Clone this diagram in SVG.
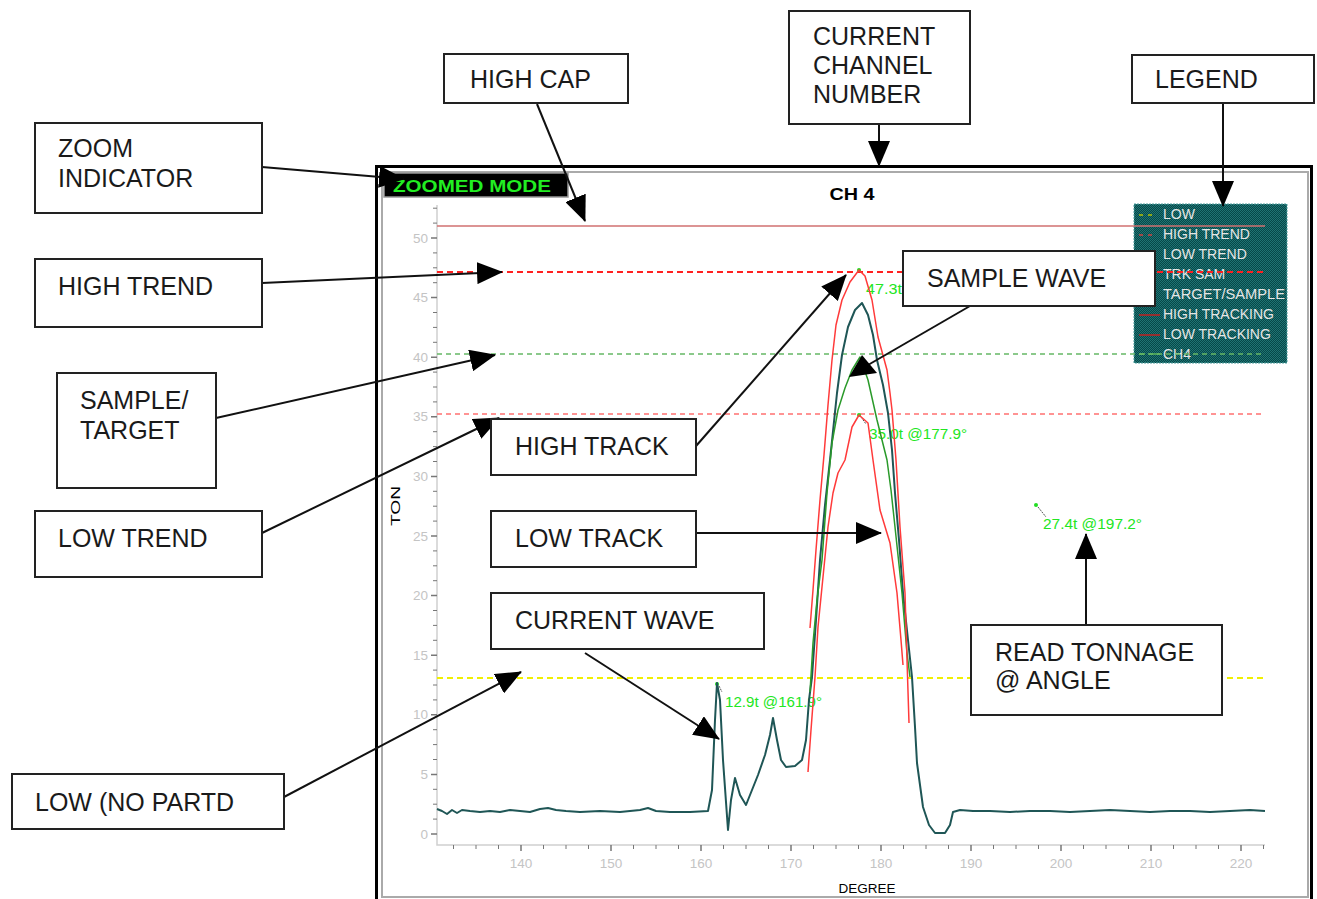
<svg xmlns="http://www.w3.org/2000/svg" width="1317" height="899" viewBox="0 0 1317 899">
<style>
.box{fill:#fff;stroke:#222;stroke-width:2}
.lbl{font-family:"Liberation Sans",Arial,sans-serif;font-size:25px;fill:#1a1a1a}
.tick{font-family:"Liberation Sans",Arial,sans-serif;font-size:13.5px;fill:#c4c4c4}
.leg{font-family:"Liberation Sans",Arial,sans-serif;font-size:14px;fill:#e6e6e6}
.val{font-family:"Liberation Sans",Arial,sans-serif;font-size:14px;fill:#22e622}
.conn{stroke:#111;stroke-width:2;fill:none}
.ax{stroke:#d0d0d0;stroke-width:1.5;fill:none}
.mt{stroke:#777;stroke-width:1.5}
</style>
<defs>
<marker id="ah" viewBox="0 0 26 22" refX="25" refY="11" markerWidth="26" markerHeight="22" markerUnits="userSpaceOnUse" orient="auto">
<path d="M0,0 L26,11 L0,22 Z" fill="#000"/>
</marker>
<pattern id="dither" width="2" height="2" patternUnits="userSpaceOnUse">
<rect width="2" height="2" fill="#064848"/>
<rect width="1" height="1" fill="#1f7373"/>
<rect x="1" y="1" width="1" height="1" fill="#1f7373"/>
</pattern>
</defs>
<rect width="1317" height="899" fill="#fff"/>

<g id="chart-frame">
<rect x="376.5" y="166.5" width="935" height="760" fill="#fff" stroke="#000" stroke-width="3"/>
<rect x="382" y="172" width="926" height="725" fill="none" stroke="#aaa" stroke-width="2"/>
</g>

<g id="zoom-mode">
<rect x="384" y="173" width="184" height="24" fill="#000" stroke="#999" stroke-width="1.5"/>
<text x="393" y="192" font-family="'Liberation Sans',Arial,sans-serif" font-size="17" font-weight="bold" fill="#22ee22" textLength="158" lengthAdjust="spacingAndGlyphs">ZOOMED MODE</text>
</g>

<g id="chart-title">
<text x="852" y="200" text-anchor="middle" font-family="'Liberation Sans',Arial,sans-serif" font-size="16" font-weight="bold" fill="#000" textLength="45" lengthAdjust="spacingAndGlyphs">CH 4</text>
</g>

<g id="axes">
<path class="ax" d="M437,205 L437,845 L1265,845"/>
<g class="mt">
<path d="M431,834H437M431,774.4H437M431,714.8H437M431,655.2H437M431,595.6H437M431,536H437M431,476.4H437M431,416.8H437M431,357.2H437M431,297.6H437M431,238H437"/>
<path stroke-width="1" d="M433,819.1H437M433,804.2H437M433,789.3H437M433,759.5H437M433,744.6H437M433,729.7H437M433,699.9H437M433,685H437M433,670.1H437M433,640.3H437M433,625.4H437M433,610.5H437M433,580.7H437M433,565.8H437M433,550.9H437M433,521.1H437M433,506.2H437M433,491.3H437M433,461.5H437M433,446.6H437M433,431.7H437M433,401.9H437M433,387H437M433,372.1H437M433,342.3H437M433,327.4H437M433,312.5H437M433,282.7H437M433,267.8H437M433,252.9H437M433,223.1H437M433,208.2H437"/>
<path d="M521,845V851M611,845V851M701,845V851M791,845V851M881,845V851M971,845V851M1061,845V851M1151,845V851M1241,845V851"/>
<path stroke-width="1" d="M453.5,845V849M476,845V849M498.5,845V849M543.5,845V849M566,845V849M588.5,845V849M633.5,845V849M656,845V849M678.5,845V849M723.5,845V849M746,845V849M768.5,845V849M813.5,845V849M836,845V849M858.5,845V849M903.5,845V849M926,845V849M948.5,845V849M993.5,845V849M1016,845V849M1038.5,845V849M1083.5,845V849M1106,845V849M1128.5,845V849M1173.5,845V849M1196,845V849M1218.5,845V849M1263.5,845V849"/>
</g>
<g class="tick" text-anchor="end">
<text x="428" y="839">0</text><text x="428" y="779">5</text><text x="428" y="719">10</text><text x="428" y="660">15</text><text x="428" y="600">20</text><text x="428" y="541">25</text><text x="428" y="481">30</text><text x="428" y="421">35</text><text x="428" y="362">40</text><text x="428" y="302">45</text><text x="428" y="243">50</text>
</g>
<g class="tick" text-anchor="middle">
<text x="521" y="868">140</text><text x="611" y="868">150</text><text x="701" y="868">160</text><text x="791" y="868">170</text><text x="881" y="868">180</text><text x="971" y="868">190</text><text x="1061" y="868">200</text><text x="1151" y="868">210</text><text x="1241" y="868">220</text>
</g>
<text x="867" y="893" text-anchor="middle" font-family="'Liberation Sans',Arial,sans-serif" font-size="12" fill="#000" textLength="57" lengthAdjust="spacingAndGlyphs">DEGREE</text>
<text transform="translate(400,506) rotate(-90)" text-anchor="middle" font-family="'Liberation Sans',Arial,sans-serif" font-size="13" fill="#000" textLength="40" lengthAdjust="spacingAndGlyphs">TON</text>
</g>

<g id="legend">
<rect x="1134" y="204" width="153" height="159" fill="url(#dither)" stroke="#4fa0a0" stroke-width="1" stroke-dasharray="2 1"/>
<path d="M1139,215H1143M1148,215H1152" stroke="#b8c000" stroke-width="1.5"/>
<path d="M1139,235H1143M1148,235H1152" stroke="#d04040" stroke-width="1.5"/>
<path d="M1139,315H1160M1139,335H1160" stroke="#c02020" stroke-width="1.5"/>
<path d="M1139,354H1145M1149,354H1160" stroke="#5cb85c" stroke-width="1.5"/>
<g class="leg">
<text x="1163" y="219">LOW</text>
<text x="1163" y="239">HIGH TREND</text>
<text x="1163" y="259">LOW TREND</text>
<text x="1163" y="279">TRK SAM</text>
<text x="1163" y="299" textLength="122" lengthAdjust="spacingAndGlyphs">TARGET/SAMPLE</text>
<text x="1163" y="319">HIGH TRACKING</text>
<text x="1163" y="339">LOW TRACKING</text>
<text x="1163" y="359">CH4</text>
</g>
</g>

<g id="ref-lines" fill="none">
<path d="M437,226H1265" stroke="#d07070" stroke-width="1.5"/>
<path d="M437,272H1265" stroke="#ff2020" stroke-width="2" stroke-dasharray="6 4"/>
<path d="M437,354H1265" stroke="#66b866" stroke-width="1.3" stroke-dasharray="5 4"/>
<path d="M437,414H1265" stroke="#ff7070" stroke-width="1.3" stroke-dasharray="5 4"/>
<path d="M437,678H1265" stroke="#f0f000" stroke-width="2" stroke-dasharray="6 4"/>
</g>

<g id="markers">
<circle cx="859" cy="270" r="2" fill="#22dd22"/>
<circle cx="859" cy="415" r="2" fill="#22dd22"/>
<circle cx="717" cy="684" r="2" fill="#22dd22"/>
<circle cx="1036" cy="505" r="2" fill="#22dd22"/>
<path d="M861,417L866,424M719,686L722,692M1038,507L1046,517" stroke="#555" stroke-width="1" stroke-dasharray="2 1"/>
<text class="val" x="866" y="294" textLength="36" lengthAdjust="spacingAndGlyphs">47.3t</text>
<text class="val" x="869" y="439" textLength="98" lengthAdjust="spacingAndGlyphs">35.0t @177.9°</text>
<text class="val" x="725" y="707" textLength="97" lengthAdjust="spacingAndGlyphs">12.9t @161.9°</text>
<text class="val" x="1043" y="529" textLength="99" lengthAdjust="spacingAndGlyphs">27.4t @197.2°</text>
</g>

<g id="waves" fill="none" stroke-linejoin="round">
<path id="ch4" stroke="#1f5656" stroke-width="2" d="M437,809 L442,811 L447,814 L452,810 L457,813 L462,810 L470,811 L480,812 L490,811 L500,812 L510,810 L520,811 L530,812 L540,809 L548,808 L556,810 L566,811 L580,812 L600,811 L620,812 L640,810 L648,808 L656,811 L670,812 L690,812 L708,811 L712,790 L715,720 L717,683 L720,700 L723,760 L728,830 L731,800 L735,778 L740,795 L746,805 L752,790 L758,775 L765,755 L770,735 L773,718 L777,740 L781,760 L786,767 L795,766 L802,760 L806,740 L809,700 L812,677 L816,620 L820,560 L825,505 L830,460 L837,393 L842,355 L848,327 L855,310 L862,303 L868,315 L873,335 L877,360 L883,385 L888,413 L892,450 L895,493 L899,540 L903,593 L908,640 L912,677 L915,727 L917,763 L920,785 L923,807 L929,825 L935,833 L945,833 L950,825 L953,812 L960,810 L973,811 L990,811 L1010,812 L1030,811 L1050,811 L1070,812 L1090,811 L1110,810 L1130,811 L1150,812 L1170,811 L1190,811 L1210,812 L1230,811 L1250,810 L1265,811"/>
<path id="sample" stroke="#2a9a2a" stroke-width="1.5" d="M810,692 L813,643 L817,600 L822,560 L827,493 L832,443 L838,410 L845,388 L852,370 L860,357 L868,380 L877,420 L887,460 L891,490 L895,527 L902,593 L907,653 L910,677"/>
<path id="high-track" stroke="#ff3a3a" stroke-width="1.5" d="M810,628 L813,590 L816,550 L820,500 L824,455 L828,405 L832,360 L836,325 L842,300 L850,282 L859,270 L865,276 L872,300 L878,337 L887,370 L890,393 L892,410 L896,460 L900,527 L905,593 L907,660 L909,723"/>
<path id="low-track" stroke="#ff3a3a" stroke-width="1.5" d="M808,772 L811,730 L815,677 L818,627 L823,577 L828,527 L833,493 L838,473 L845,460 L852,427 L859,415 L868,423 L873,460 L880,510 L890,543 L897,593 L901,640 L903,665"/>
</g>

<g id="connectors">
<path class="conn" d="M537,104 L585,221" marker-end="url(#ah)"/>
<path class="conn" d="M879,124 L879,166" marker-end="url(#ah)"/>
<path class="conn" d="M1223,103 L1223,206" marker-end="url(#ah)"/>
<path class="conn" d="M262,167 L404,179" marker-end="url(#ah)"/>
<path class="conn" d="M262,283 L502,272" marker-end="url(#ah)"/>
<path class="conn" d="M216,418 L495,355" marker-end="url(#ah)"/>
<path class="conn" d="M262,533 L499,418" marker-end="url(#ah)"/>
<path class="conn" d="M284,797 L521,672" marker-end="url(#ah)"/>
<path class="conn" d="M696,446 L846,275" marker-end="url(#ah)"/>
<path class="conn" d="M970,306 L868,365"/>
<polygon points="862,355 849,377 877,373" fill="#000"/>
<path class="conn" d="M696,533 L881,533" marker-end="url(#ah)"/>
<path class="conn" d="M585,653 L719,739" marker-end="url(#ah)"/>
<path class="conn" d="M1086,624 L1086,534" marker-end="url(#ah)"/>
</g>

<g id="high-cap"><rect class="box" x="444" y="54" width="184" height="49"/><text class="lbl" x="470" y="88">HIGH CAP</text></g>
<g id="current-channel"><rect class="box" x="789" y="11" width="181" height="113"/><text class="lbl" x="813" y="45">CURRENT</text><text class="lbl" x="813" y="74">CHANNEL</text><text class="lbl" x="813" y="103">NUMBER</text></g>
<g id="legend-label"><rect class="box" x="1132" y="55" width="182" height="48"/><text class="lbl" x="1155" y="88">LEGEND</text></g>
<g id="zoom-indicator"><rect class="box" x="35" y="123" width="227" height="90"/><text class="lbl" x="58" y="157">ZOOM</text><text class="lbl" x="58" y="187">INDICATOR</text></g>
<g id="high-trend"><rect class="box" x="35" y="259" width="227" height="68"/><text class="lbl" x="58" y="295">HIGH TREND</text></g>
<g id="sample-target"><rect class="box" x="57" y="373" width="159" height="115"/><text class="lbl" x="80" y="409">SAMPLE/</text><text class="lbl" x="80" y="439">TARGET</text></g>
<g id="low-trend"><rect class="box" x="35" y="511" width="227" height="66"/><text class="lbl" x="58" y="547">LOW TREND</text></g>
<g id="low-no-part"><rect class="box" x="12" y="774" width="272" height="55"/><text class="lbl" x="35" y="811">LOW (NO PARTD</text></g>
<g id="high-track-label"><rect class="box" x="491" y="419" width="205" height="56"/><text class="lbl" x="515" y="455">HIGH TRACK</text></g>
<g id="low-track-label"><rect class="box" x="491" y="511" width="205" height="56"/><text class="lbl" x="515" y="547">LOW TRACK</text></g>
<g id="current-wave"><rect class="box" x="491" y="593" width="273" height="56"/><text class="lbl" x="515" y="629">CURRENT WAVE</text></g>
<g id="sample-wave"><rect class="box" x="903" y="251" width="252" height="55"/><text class="lbl" x="927" y="287">SAMPLE WAVE</text></g>
<g id="read-tonnage"><rect class="box" x="971" y="625" width="251" height="90"/><text class="lbl" x="995" y="661">READ TONNAGE</text><text class="lbl" x="995" y="689">@ ANGLE</text></g>
</svg>
